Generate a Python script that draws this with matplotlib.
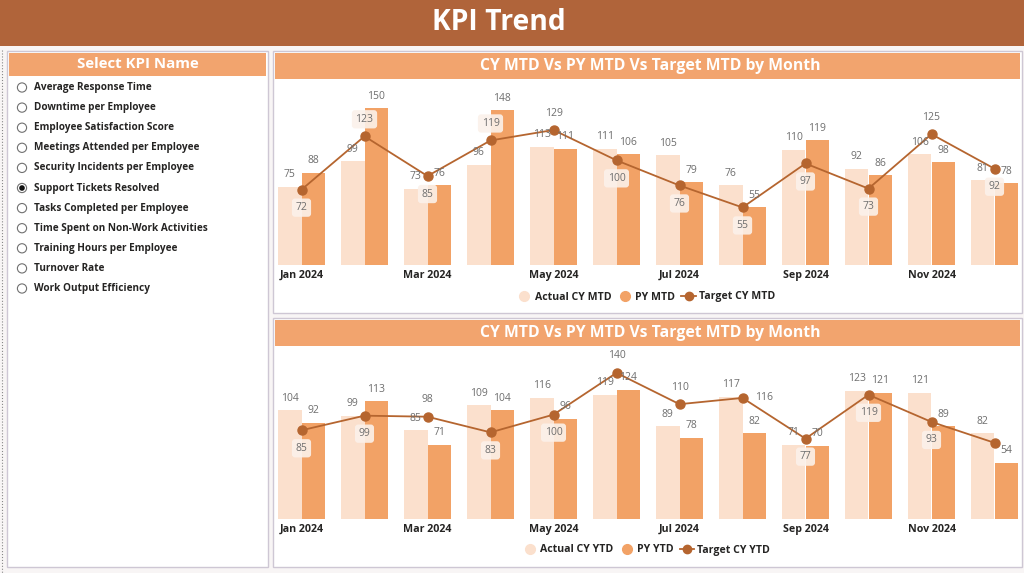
import numpy as np
import matplotlib
matplotlib.use('Agg')
import matplotlib.pyplot as plt
from matplotlib.patches import Rectangle, Circle
from matplotlib.lines import Line2D

plt.rcParams['font.family'] = ['Open Sans', 'DejaVu Sans']

W, H = 1024, 573

# ---- data ----
months = ['Jan 2024', 'Feb 2024', 'Mar 2024', 'Apr 2024', 'May 2024', 'Jun 2024',
          'Jul 2024', 'Aug 2024', 'Sep 2024', 'Oct 2024', 'Nov 2024', 'Dec 2024']
tick_labels = [m if i % 2 == 0 else '' for i, m in enumerate(months)]

kpi_names = ['Average Response Time', 'Downtime per Employee', 'Employee Satisfaction Score',
             'Meetings Attended per Employee', 'Security Incidents per Employee',
             'Support Tickets Resolved', 'Tasks Completed per Employee',
             'Time Spent on Non-Work Activities', 'Training Hours per Employee',
             'Turnover Rate', 'Work Output Efficiency']
selected_kpi = 'Support Tickets Resolved'

actual_mtd = [75, 99, 73, 96, 113, 111, 105, 76, 110, 92, 106, 81]
py_mtd = [88, 150, 76, 148, 111, 106, 79, 55, 119, 86, 98, 78]
target_mtd = [72, 123, 85, 119, 129, 100, 76, 55, 97, 73, 125, 92]

actual_ytd = [104, 99, 85, 109, 116, 119, 89, 117, 71, 123, 121, 82]
py_ytd = [92, 113, 71, 104, 96, 124, 78, 82, 70, 121, 89, 54]
target_ytd = [85, 99, 98, 83, 100, 140, 110, 116, 77, 119, 93, 73]

# where the target label sits (Power BI moves them around to avoid overlap)
# "box" = label drawn on its light background box, "plain" = text only
mtd_label_pos = ['below', 'above', 'below', 'above', 'above plain', 'below',
                 'below', 'below', 'below', 'below', 'above plain', 'below']
ytd_label_pos = ['below', 'below', 'above plain', 'below', 'below', 'above plain',
                 'above plain', 'right plain', 'below', 'below', 'below', None]

# ---- colours ----
c_title = '#b0643a'
c_head = '#f2a46e'
c_act = '#fbe0cd'
c_py = '#f2a266'
c_tgt = '#b5652f'
c_border = '#cec7d4'
c_lab = '#6e6e6e'
c_dark = '#252423'

fig = plt.figure(figsize=(W / 100, H / 100), dpi=100)
fig.patch.set_facecolor('#f8f5f5')

bg = fig.add_axes([0, 0, 1, 1])
bg.set_xlim(0, W)
bg.set_ylim(H, 0)
bg.axis('off')

# title bar
bg.add_patch(Rectangle((0, 0), W, 46, fc=c_title, ec='none'))
bg.text(499, 23, 'KPI Trend', color='white', fontsize=20.3, fontweight='bold',
        ha='center', va='center')
bg.plot([2, 2], [50, H], color='#888888', lw=0.8, ls=':')

# left slicer panel
bg.add_patch(Rectangle((7, 51), 261, 516, fc='white', ec=c_border, lw=1))
bg.add_patch(Rectangle((9, 53), 257, 23, fc=c_head, ec='none'))
bg.text(138, 64, 'Select KPI Name', color='white', fontsize=10.8, fontweight='bold',
        ha='center', va='center')
for i, name in enumerate(kpi_names):
    y = 87.5 + i * 20.1
    bg.add_patch(Circle((22, y), 4.6, fc='white', ec='#707070', lw=0.8))
    if name == selected_kpi:
        bg.add_patch(Circle((22, y), 2.8, fc='#111111', ec='none'))
    bg.text(34, y, name, color=c_dark, fontsize=7.2, fontweight='bold', va='center')

# chart panels
for top, h in [(51, 262), (318, 249)]:
    bg.add_patch(Rectangle((273, top), 749, h, fc='white', ec=c_border, lw=1))
    bg.add_patch(Rectangle((275, top + 2), 745, 26, fc=c_head, ec='none'))
    bg.text(650, top + 15, 'CY MTD Vs PY MTD Vs Target MTD by Month', color='white',
            fontsize=11.3, fontweight='bold', ha='center', va='center')


def px_axes(x0, y0, x1, y1):
    return fig.add_axes([x0 / W, 1 - y1 / H, (x1 - x0) / W, (y1 - y0) / H])


def draw_chart(ax, actual, py, target, pos, ymax, names, legend_y):
    x = np.arange(len(months))
    bw = 0.373
    ax.bar(x - bw / 2, actual, bw, color=c_act, zorder=2)
    ax.bar(x + bw / 2, py, bw, color=c_py, zorder=2)
    ax.plot(x, target, color=c_tgt, lw=1.3, marker='o', ms=6.5, zorder=4)
    for xi, v in zip(x, actual):
        ax.annotate(str(v), (xi - bw / 2, v), xytext=(0, 12), textcoords='offset pixels',
                    ha='center', va='center', fontsize=7.5, color=c_lab, zorder=5)
    for xi, v in zip(x, py):
        ax.annotate(str(v), (xi + bw / 2, v), xytext=(0, 12), textcoords='offset pixels',
                    ha='center', va='center', fontsize=7.5, color=c_lab, zorder=5)
    offs = {'below': (0, -18), 'above': (0, 17), 'right': (22, 0)}
    for xi, v, p in zip(x, target, pos):
        if p is None:
            continue
        where = p.split()[0]
        box = None
        if 'plain' not in p:
            box = dict(boxstyle='round,pad=0.35,rounding_size=0.3',
                       fc='#fbf1ea', ec='none', alpha=0.9)
        ax.annotate(str(v), (xi, v), xytext=offs[where], textcoords='offset pixels',
                    ha='center', va='center', fontsize=7.5, color=c_lab, zorder=6,
                    bbox=box)
    ax.set_xlim(-0.5, 11.5)
    ax.set_ylim(0, ymax)
    ax.set_xticks(x)
    ax.set_xticklabels(tick_labels, fontsize=7.7, fontweight='bold', color=c_dark)
    ax.tick_params(axis='x', length=0, pad=3.5)
    ax.set_yticks([])
    for s in ax.spines.values():
        s.set_visible(False)
    ax.patch.set_alpha(0)

    handles = [Line2D([0], [0], marker='o', ls='', color=c_act, ms=7),
               Line2D([0], [0], marker='o', ls='', color=c_py, ms=7),
               Line2D([0], [0], marker='o', color=c_tgt, lw=1.3, ms=6)]
    fig.legend(handles, names, loc='center', bbox_to_anchor=(646 / W, 1 - legend_y / H),
               ncol=3, frameon=False, prop={'size': 7.6, 'weight': 'bold'},
               handlelength=1.4, handletextpad=0.25, columnspacing=0.6, labelcolor=c_dark)


ax1 = px_axes(270, 85, 1026, 265)
draw_chart(ax1, actual_mtd, py_mtd, target_mtd, mtd_label_pos, 172,
           ['Actual CY MTD', 'PY MTD', 'Target CY MTD'], 297)

ax2 = px_axes(270, 352, 1026, 519)
draw_chart(ax2, actual_ytd, py_ytd, target_ytd, ytd_label_pos, 160,
           ['Actual CY YTD', 'PY YTD', 'Target CY YTD'], 550)

fig.savefig('out.png', dpi=100, facecolor=fig.get_facecolor())
